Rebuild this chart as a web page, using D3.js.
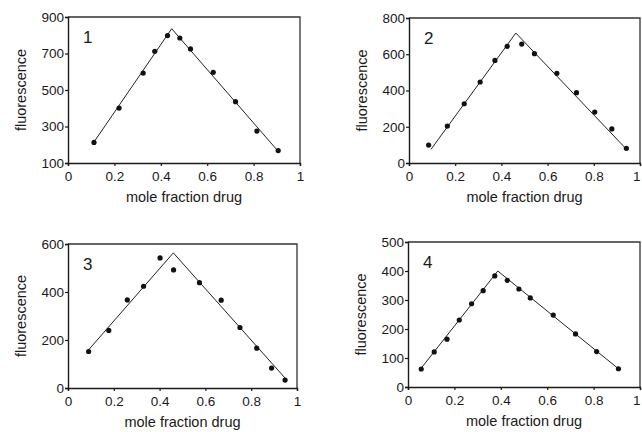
<!DOCTYPE html>
<html>
<head>
<meta charset="utf-8">
<script src="https://cdn.jsdelivr.net/npm/d3@7"></script>
<style>
  body { margin: 0; background: #fff; }
  svg { display: block; }
</style>
</head>
<body>
<svg id="chart" width="642" height="432"></svg>
<script>
// mole fraction of drug vs measured fluorescence, four titrations
var frac1 = [0.112, 0.220, 0.324, 0.374, 0.429, 0.482, 0.528, 0.626, 0.722, 0.814, 0.906];
var fluo1 = [213, 401, 593, 712, 798, 785, 725, 597, 436, 275, 168];
var fitX1 = [0.112, 0.447, 0.906];
var fitY1 = [215, 836, 164];

var frac2 = [0.085, 0.166, 0.239, 0.308, 0.372, 0.425, 0.488, 0.543, 0.640, 0.725, 0.804, 0.878, 0.941];
var fluo2 = [99, 204, 327, 447, 566, 644, 656, 603, 495, 388, 281, 188, 81];
var fitX2 = [0.095, 0.4625, 0.940];
var fitY2 = [75, 717, 78];

var frac3 = [0.090, 0.178, 0.259, 0.330, 0.402, 0.461, 0.574, 0.669, 0.751, 0.824, 0.889, 0.948];
var fluo3 = [152, 240, 367, 424, 542, 492, 439, 366, 252, 166, 83, 33];
var fitX3 = [0.090, 0.460, 0.950];
var fitY3 = [159, 563, 39];

var frac4 = [0.057, 0.113, 0.168, 0.221, 0.274, 0.324, 0.374, 0.428, 0.478, 0.527, 0.626, 0.722, 0.813, 0.907];
var fluo4 = [62, 121, 165, 231, 287, 332, 383, 368, 338, 307, 248, 183, 122, 63];
var fitX4 = [0.057, 0.387, 0.907];
var fitY4 = [65, 400, 63];

var xTicks = [0, 0.2, 0.4, 0.6, 0.8, 1];
var yTicks1 = [100, 300, 500, 700, 900];
var yTicks2 = [0, 200, 400, 600, 800];
var yTicks3 = [0, 200, 400, 600];
var yTicks4 = [0, 100, 200, 300, 400, 500];

var panels = [
    { label: '1', frac: frac1, fluo: fluo1, fitX: fitX1, fitY: fitY1, yTicks: yTicks1, box: [68, 300, 17, 163] },
    { label: '2', frac: frac2, fluo: fluo2, fitX: fitX2, fitY: fitY2, yTicks: yTicks2, box: [409, 640, 18, 163] },
    { label: '3', frac: frac3, fluo: fluo3, fitX: fitX3, fitY: fitY3, yTicks: yTicks3, box: [68, 297, 244, 388] },
    { label: '4', frac: frac4, fluo: fluo4, fitX: fitX4, fitY: fitY4, yTicks: yTicks4, box: [408, 640, 242, 387] },
];

var FONT = 'Liberation Sans, Arial, Helvetica, sans-serif';
var INK = '#1a1a1a';
var svg = d3.select('#chart');

panels.forEach(function(p) {
    var l = p.box[0], r = p.box[1], t = p.box[2], b = p.box[3];
    var x = d3.scaleLinear().domain([0, 1]).range([l, r]);
    var y = d3.scaleLinear()
        .domain([p.yTicks[0], p.yTicks[p.yTicks.length - 1]])
        .range([b, t]);

    var g = svg.append('g');

    // frame (top + right sides)
    g.append('path')
        .attr('d', `M${l},${t}H${r}V${b}`)
        .attr('fill', 'none')
        .attr('stroke', '#333')
        .attr('stroke-width', 1.3);

    var xAxis = g.append('g')
        .attr('transform', `translate(0,${b})`)
        .call(d3.axisBottom(x).tickValues(xTicks).tickSize(3).tickPadding(5)
              .tickFormat(d => d === 0 || d === 1 ? d3.format('d')(d) : d3.format('.1f')(d)));
    var yAxis = g.append('g')
        .attr('transform', `translate(${l},0)`)
        .call(d3.axisLeft(y).tickValues(p.yTicks).tickSize(3).tickPadding(1));

    [xAxis, yAxis].forEach(function(ax) {
        ax.select('.domain').attr('stroke', INK).attr('stroke-width', 1.4);
        ax.selectAll('.tick line').attr('stroke', INK).attr('stroke-width', 1.2);
        ax.selectAll('.tick text')
            .attr('fill', INK)
            .attr('font-family', FONT)
            .attr('font-size', 13.5);
    });

    // the "1" on the right edge is clipped in the source; keep it inside the page
    if (r > 630) {
        xAxis.selectAll('.tick text').filter(d => d === 1)
            .attr('text-anchor', 'end').attr('dx', 0);
    }

    g.append('text')
        .attr('x', (l + r) / 2)
        .attr('y', b + 39)
        .attr('text-anchor', 'middle')
        .attr('font-family', FONT)
        .attr('font-size', 14.5)
        .attr('fill', INK)
        .text('mole fraction drug');

    g.append('text')
        .attr('transform', `translate(${l - 42},${(t + b) / 2}) rotate(-90)`)
        .attr('text-anchor', 'middle')
        .attr('font-family', FONT)
        .attr('font-size', 14.5)
        .attr('fill', INK)
        .text('fluorescence');

    g.append('text')
        .attr('x', l + 15)
        .attr('y', t + 26)
        .attr('font-family', FONT)
        .attr('font-size', 17)
        .attr('fill', INK)
        .text(p.label);

    var fit = p.fitX.map((v, i) => [v, p.fitY[i]]);
    g.append('path')
        .datum(fit)
        .attr('fill', 'none')
        .attr('stroke', '#222')
        .attr('stroke-width', 1)
        .attr('d', d3.line().x(d => x(d[0])).y(d => y(d[1])));

    g.selectAll('circle')
        .data(p.frac.map((v, i) => [v, p.fluo[i]]))
        .join('circle')
        .attr('cx', d => x(d[0]))
        .attr('cy', d => y(d[1]))
        .attr('r', 2.6)
        .attr('fill', '#111');
});
</script>
</body>
</html>
